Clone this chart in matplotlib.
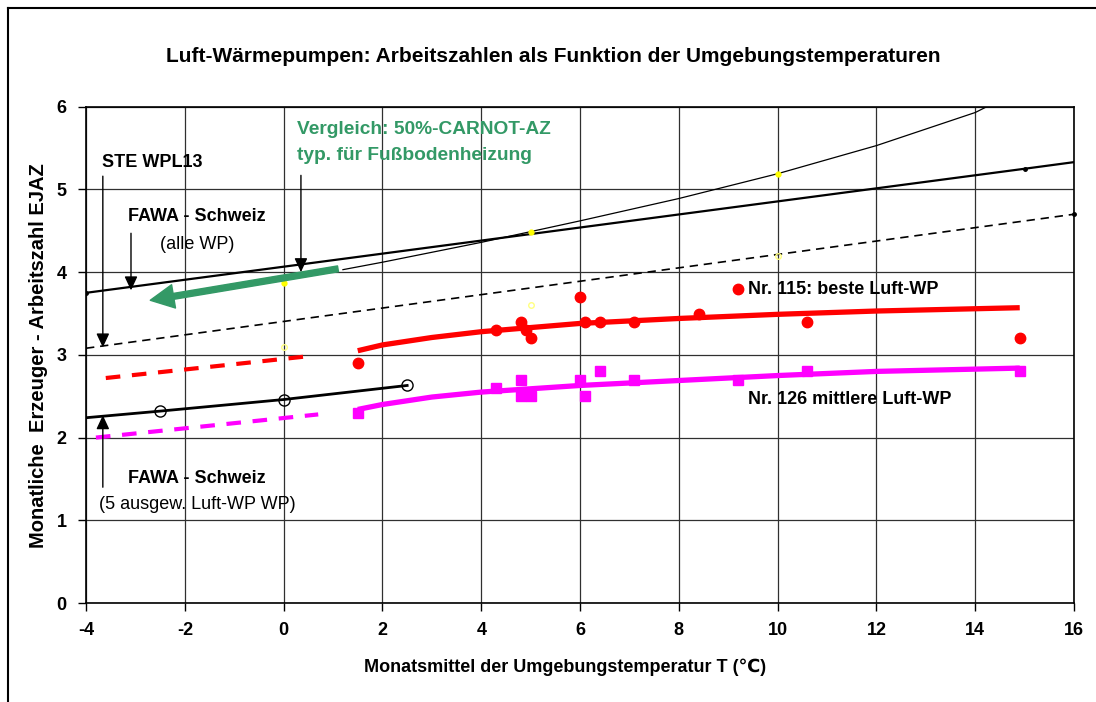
import matplotlib.pyplot as plt
from matplotlib.lines import Line2D

plt.rcParams['font.family'] = ['Liberation Sans', 'DejaVu Sans']
plt.rcParams['axes.unicode_minus'] = False

# STE WPL13 / FAWA alle WP (solid line, linear trend)
ste_T = [-4, 15, 16]
ste_AZ = [3.75, 5.25, 5.33]
ste_mark_T = [-4, 15]
ste_mark_AZ = [3.75, 5.25]

# dashed black line
dash_T = [-4, 16]
dash_AZ = [3.08, 4.70]

# 50%-Carnot curve
carnot_T = [1.2, 2, 4, 5, 6, 8, 10, 12, 14, 14.5]
carnot_AZ = [4.03, 4.12, 4.36, 4.49, 4.62, 4.89, 5.19, 5.53, 5.93, 6.08]
carnot_pt_T = [0, 5, 10]
carnot_pt_AZ = [3.87, 4.49, 5.19]
pale_T = [0, 5, 10]
pale_AZ = [3.09, 3.60, 4.20]

# Nr. 115 beste Luft-WP
wp115_T = [1.5, 4.3, 4.8, 4.9, 5.0, 6.0, 6.1, 6.4, 7.1, 8.4, 10.6, 14.9]
wp115_AZ = [2.90, 3.30, 3.40, 3.30, 3.20, 3.70, 3.40, 3.40, 3.40, 3.50, 3.40, 3.20]
trend115_T = [1.5, 2, 3, 4, 6, 8, 10, 12, 14.9]
trend115_AZ = [3.05, 3.12, 3.21, 3.28, 3.38, 3.44, 3.49, 3.53, 3.57]
ext115_T = [-3.6, 0.6]
ext115_AZ = [2.72, 2.99]

# Nr. 126 mittlere Luft-WP
wp126_T = [1.5, 4.3, 4.8, 4.8, 5.0, 6.0, 6.1, 6.4, 7.1, 9.2, 10.6, 14.9]
wp126_AZ = [2.30, 2.60, 2.70, 2.50, 2.50, 2.70, 2.50, 2.80, 2.70, 2.70, 2.80, 2.80]
trend126_T = [1.5, 2, 3, 4, 6, 8, 10, 12, 14.9]
trend126_AZ = [2.34, 2.40, 2.49, 2.55, 2.63, 2.69, 2.75, 2.80, 2.84]
ext126_T = [-3.8, 0.7]
ext126_AZ = [2.00, 2.28]

# FAWA 5 ausgewaehlte Luft-WP
fawa5_T = [-4, -2.5, 0, 2.5]
fawa5_AZ = [2.24, 2.32, 2.46, 2.63]

green = '#339966'

fig = plt.figure(figsize=(10.96, 7.02), dpi=100)
ax = fig.add_axes([0.0785, 0.141, 0.9015, 0.707])

# frame of the chart area
fig.add_artist(Line2D([8/1096, 1], [1-8/702, 1-8/702], color='black', lw=1.5))
fig.add_artist(Line2D([8/1096, 8/1096], [0, 1-8/702], color='black', lw=1.5))

ax.plot(ste_T, ste_AZ, color='black', lw=1.6)
ax.plot(ste_mark_T, ste_mark_AZ, 'o', color='black', ms=2.5)
ax.plot(dash_T, dash_AZ, color='black', lw=1.2, ls=(0, (5, 3.5)))
ax.plot(dash_T[-1:], dash_AZ[-1:], 'o', color='black', ms=2.5, clip_on=False)
ax.plot(carnot_T, carnot_AZ, color='black', lw=0.9)
ax.plot(carnot_pt_T, carnot_pt_AZ, 'o', color='yellow', ms=3.5)
ax.plot(pale_T, pale_AZ, 'o', mfc='none', mec='#ffff80', ms=4)

ax.plot(trend115_T, trend115_AZ, color='red', lw=3.8, solid_capstyle='butt')
ax.plot(ext115_T, ext115_AZ, color='red', lw=3, ls=(0, (3.5, 2.8)))
ax.plot(wp115_T, wp115_AZ, 'o', color='red', ms=7.5)

ax.plot(trend126_T, trend126_AZ, color='magenta', lw=3.8, solid_capstyle='butt')
ax.plot(ext126_T, ext126_AZ, color='magenta', lw=3, ls=(0, (3.5, 2.8)))
ax.plot(wp126_T, wp126_AZ, 's', color='magenta', ms=7.5)

ax.plot(fawa5_T, fawa5_AZ, color='black', lw=2)
ax.plot(fawa5_T[1:], fawa5_AZ[1:], 'o', mfc='none', mec='black', ms=8, mew=1)

# green arrow (Carnot comparison)
ax.annotate('', xy=(-2.7, 3.66), xytext=(1.1, 4.04),
            arrowprops=dict(arrowstyle='simple,head_length=1.0,head_width=1.0,tail_width=0.25',
                            color=green, mutation_scale=17, shrinkA=0, shrinkB=0))

# black pointer arrows
arrow = dict(arrowstyle='-|>,head_length=0.6,head_width=0.28', color='black', lw=1,
             mutation_scale=14, shrinkA=0, shrinkB=0)
ax.annotate('', xy=(-3.66, 3.09), xytext=(-3.66, 5.16), arrowprops=arrow)
ax.annotate('', xy=(-3.09, 3.78), xytext=(-3.09, 4.47), arrowprops=arrow)
ax.annotate('', xy=(0.35, 4.0), xytext=(0.35, 5.17), arrowprops=arrow)
ax.annotate('', xy=(-3.66, 2.27), xytext=(-3.66, 1.40), arrowprops=arrow)

fs = 13
ax.text(-3.68, 5.33, 'STE WPL13', fontsize=fs, fontweight='bold', va='center', ha='left')
ax.text(-1.76, 4.67, 'FAWA - Schweiz', fontsize=fs, fontweight='bold', va='center', ha='center')
ax.text(-1.76, 4.34, '(alle WP)', fontsize=fs, va='center', ha='center')
ax.text(0.27, 5.72, 'Vergleich: 50%-CARNOT-AZ', fontsize=13.8, fontweight='bold',
        color=green, va='center', ha='left')
ax.text(0.27, 5.41, 'typ. für Fußbodenheizung', fontsize=13.8, fontweight='bold',
        color=green, va='center', ha='left')
ax.plot([9.2], [3.795], 'o', color='red', ms=7.5)
ax.text(9.4, 3.795, 'Nr. 115: beste Luft-WP', fontsize=fs, fontweight='bold', va='center', ha='left')
ax.text(9.4, 2.465, 'Nr. 126 mittlere Luft-WP', fontsize=fs, fontweight='bold', va='center', ha='left')
ax.text(-1.75, 1.50, 'FAWA - Schweiz', fontsize=fs, fontweight='bold', va='center', ha='center')
ax.text(-1.75, 1.185, '(5 ausgew. Luft-WP WP)', fontsize=fs, va='center', ha='center')

ax.set_xlim(-4, 16)
ax.set_ylim(0, 6)
ax.set_xticks(range(-4, 17, 2))
ax.set_yticks(range(0, 7))
ax.grid(True, color='#303030', lw=0.9)
ax.tick_params(direction='out', length=6, width=1, labelsize=13, pad=8)
for lab in ax.get_xticklabels() + ax.get_yticklabels():
    lab.set_fontweight('bold')
for s in ax.spines.values():
    s.set_linewidth(1.2)

fig.text(0.505, 0.919, 'Luft-Wärmepumpen: Arbeitszahlen als Funktion der Umgebungstemperaturen',
         fontsize=15, fontweight='bold', ha='center', va='center')
fig.text(0.0347, 0.494, 'Monatliche  Erzeuger - Arbeitszahl EJAZ', fontsize=14.5,
         fontweight='bold', rotation=90, ha='center', va='center')
fig.text(0.516, 0.050, 'Monatsmittel der Umgebungstemperatur T (℃)', fontsize=13,
         fontweight='bold', ha='center', va='center')

fig.savefig('out.png', dpi=100)
